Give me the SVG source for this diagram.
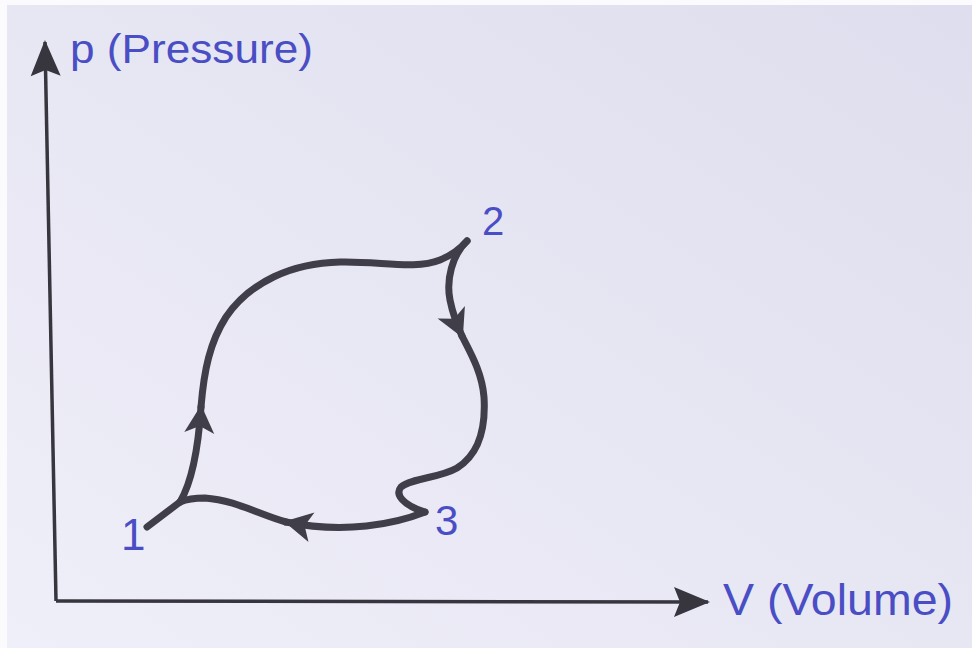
<svg xmlns="http://www.w3.org/2000/svg" width="972" height="648" viewBox="0 0 972 648">
  <defs>
    <linearGradient id="paper" x1="1" y1="0" x2="0" y2="1">
      <stop offset="0" stop-color="#dfdeee"/>
      <stop offset="0.5" stop-color="#e7e6f3"/>
      <stop offset="1" stop-color="#efeff9"/>
    </linearGradient>
    <marker id="axisHead" viewBox="-36 -16 40 32" refX="0" refY="0" markerWidth="40" markerHeight="32" markerUnits="userSpaceOnUse" orient="auto">
      <path d="M2,0 L-34,-15 L-28,0 L-34,15 Z" fill="#37363f"/>
    </marker>
    <marker id="flowHead" viewBox="-30 -16 34 32" refX="0" refY="0" markerWidth="34" markerHeight="32" markerUnits="userSpaceOnUse" orient="auto">
      <path d="M2,0 L-26,-15 L-19,0 L-26,15 Z" fill="#403e48"/>
    </marker>
    <style>
      .axis { fill: none; stroke: #37363f; stroke-width: 3.5; }
      .cycle { fill: none; stroke: #403e48; stroke-width: 7; stroke-linecap: round; stroke-linejoin: round; }
      .lbl { font-family: "Liberation Sans", Arial, sans-serif; fill: #4a4ec4; }
    </style>
  </defs>

  <rect x="0" y="0" width="972" height="648" fill="#fbfbfe"/>
  <rect x="7" y="5" width="965" height="643" fill="url(#paper)"/>

  <g id="axes">
    <path id="p-axis" class="axis" d="M56,601 L45,42" marker-end="url(#axisHead)"/>
    <path id="v-axis" class="axis" d="M56,601 L708,602" marker-end="url(#axisHead)"/>
  </g>

  <g id="connectors">
    <path class="cycle" d="M147,527 L180,502"/>
    <path id="c12a" class="cycle" d="M180,502 C192,482 198,452 201,407" marker-end="url(#flowHead)"/>
    <path id="c12b" class="cycle" d="M201,407 C204,370 210,342 226,317 C250,282 292,263 340,262 C380,261 415,270 440,260 C452,255 460,249 467,241"/>
    <path id="c23a" class="cycle" d="M467,241 C452,255 446,280 450,300 C453,315 457,325 462,336" marker-end="url(#flowHead)"/>
    <path id="c23b" class="cycle" d="M462,336 C470,352 482,372 484,397 C486,430 478,455 457,468 C440,478 412,478 401,487 C395,494 402,505 425,512"/>
    <path id="c31a" class="cycle" d="M425,512 C395,524 345,534 286,522" marker-end="url(#flowHead)"/>
    <path id="c31b" class="cycle" d="M286,522 C260,515 235,500 205,498 C195,498 187,499 180,502"/>
  </g>

  <g id="label-p"><text class="lbl" x="70" y="63" font-size="41" textLength="243" lengthAdjust="spacingAndGlyphs">p (Pressure)</text></g>
  <g id="label-v"><text class="lbl" x="723" y="615" font-size="45" textLength="230" lengthAdjust="spacingAndGlyphs">V (Volume)</text></g>
  <g id="node-1"><text class="lbl" x="121" y="550" font-size="44">1</text></g>
  <g id="node-2"><text class="lbl" x="482" y="235" font-size="40">2</text></g>
  <g id="node-3"><text class="lbl" x="435" y="535" font-size="42">3</text></g>
</svg>
